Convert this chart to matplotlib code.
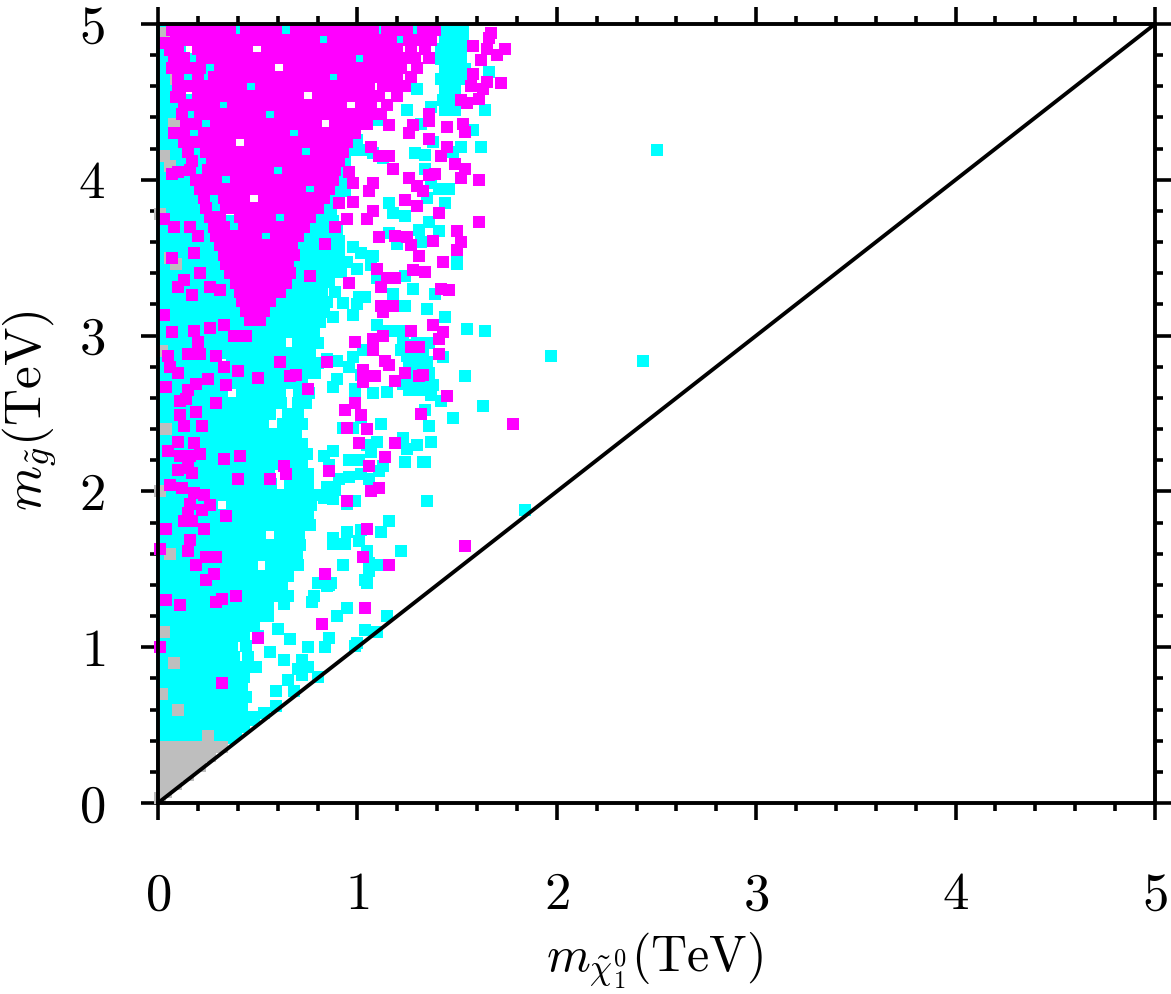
import matplotlib
matplotlib.use("Agg")
import matplotlib.pyplot as plt
from matplotlib.ticker import MultipleLocator

plt.rcParams['font.family'] = 'serif'
plt.rcParams['font.serif'] = ['cmr10']
plt.rcParams['mathtext.fontset'] = 'cm'
plt.rcParams['axes.formatter.use_mathtext'] = True

# masses in GeV (x = neutralino, y = gluino)
# dense parts: one row per gluino mass, listing the neutralino masses
L = [20, 70, 120, 170, 220, 270, 320, 370, 420]   # the filled strip next to the y axis

cyan_rows = {
    4970: [20, 60, 110, 160, 400, 1120, 1290, 1430, 1480, 1530],
    4905: [20, 60, 110, 1220, 1440, 1490, 1530],
    4840: [20, 60, 110, 1420, 1470, 1520],
    4775: [20, 60, 110, 170, 1420, 1470, 1520],
    4710: [20, 60, 110, 1440, 1490, 1540],
    4645: [20, 60, 110, 160, 230, 1420, 1470, 1520],
    4580: [20, 60, 110, 1300, 1440, 1490],
    4515: [20, 60, 110, 160, 1430, 1480],
    4450: [20, 60, 110, 160, 1250, 1440, 1490],
    4385: [20, 60, 110, 160, 200, 1100],
    4320: [20, 60, 110, 160, 200],
    4255: [20, 60, 110, 160, 200, 1000],
    4190: [20, 60, 110, 160, 200, 960, 1000],
    4125: [20, 60, 110, 160, 200, 940],
    4060: [20, 60, 110, 160, 200, 250, 930],
    3995: [20, 60, 110, 160, 200, 250, 910, 960],
    3930: [20, 60, 110, 160, 200, 250, 890, 940],
    3865: [20, 60, 110, 160, 200, 250, 300, 860, 910],
    3800: [20, 60, 110, 160, 200, 250, 300, 820, 870],
    3735: [20, 70, 120, 170, 220, 270, 320, 370, 780, 830, 880],
    3670: [20, 70, 120, 170, 220, 270, 320, 370, 740, 790, 840, 900],
    3605: [20, 70, 120, 170, 220, 270, 320, 370, 710, 760, 810, 860, 910],
    3540: [20, 70, 120, 170, 220, 270, 320, 370, 690, 740, 790, 840, 900],
    3475: [20, 70, 120, 170, 220, 270, 320, 370, 690, 740, 790, 840, 890, 950],
    3410: L + [660, 710, 760, 810, 860, 920],
    3345: L + [650, 700, 750, 800, 860],
    3280: L + [470, 515, 565, 610, 660, 705, 760, 820, 890],
    3215: L + [465, 560, 610, 655, 700, 750, 800, 850],
    3150: L + [570, 625, 670, 720, 775, 830],
    3085: L + [460, 510, 555, 600, 650, 700, 760, 810],
    3020: L + [470, 520, 575, 625, 665, 720, 780],
    2955: L + [465, 515, 560, 610, 700, 750, 800],
    2890: L + [460, 510, 560, 605, 655, 710, 760],
    2825: [20, 70, 120, 170, 220, 270, 370, 420, 470, 520, 570, 640, 690, 745, 800],
    2760: L + [465, 510, 555, 600, 650, 740, 785],
    2695: L + [475, 525, 575, 620, 670, 720],
    2630: [20, 70, 120, 170, 220, 270, 320, 420, 460, 505, 555, 610, 705, 755],
    2565: L + [470, 520, 565, 615, 700, 740],
    2500: L + [465, 510, 560, 650, 700],
    2435: L + [475, 525, 625, 680, 720],
    2370: L + [460, 505, 550, 600, 645, 690],
    2305: L + [470, 515, 570, 620, 670, 720],
    2240: [20, 70, 120, 170, 220, 270, 320, 370, 465, 510, 560, 605, 650, 700, 745],
    2175: L + [475, 520, 565, 615, 665, 720],
    2110: L + [460, 505, 555, 650, 700, 750],
    2045: L + [470, 520, 565, 660, 705, 750],
    1980: L + [465, 510, 555, 605, 655, 700, 745, 790],
    1915: [20, 70, 120, 170, 220, 270, 370, 420, 475, 525, 570, 620, 665, 715, 765],
    1850: L + [460, 505, 555, 600, 650, 700, 750],
    1785: L + [470, 515, 565, 615, 660, 710, 760],
    1720: L + [465, 510, 610, 655, 705],
    1655: L + [475, 520, 570, 615, 665, 710],
    1590: L + [460, 510, 555, 600, 650, 695],
    1525: L + [470, 565, 615, 660, 700],
    1460: L + [465, 510, 560, 605, 650],
    1395: L + [475, 520, 570, 620],
    1330: L + [460, 505, 555, 600, 650],
    1265: [20, 70, 120, 170, 220, 270, 320, 370, 420, 480, 540],
    1200: [20, 70, 120, 170, 220, 270, 320, 370, 430, 490, 550],
    1135: [20, 70, 120, 170, 220, 270, 320, 370, 430, 480],
    1070: [20, 70, 120, 170, 220, 270, 320, 370, 430, 500],
    1005: [20, 70, 120, 170, 220, 270, 320, 370, 440],
    940: [20, 70, 120, 170, 220, 270, 320, 380, 450],
    875: [20, 70, 120, 170, 220, 270, 320, 370, 430, 490],
    810: [20, 70, 120, 170, 220, 270, 320, 370, 430],
    745: [20, 70, 120, 170, 220, 270, 320, 370, 420],
    680: [20, 70, 120, 170, 220, 270, 320, 380, 440],
    615: [20, 70, 120, 170, 220, 270, 320, 370, 420],
    550: [20, 70, 120, 170, 220, 270, 320, 370, 420, 480],
    485: [20, 70, 120, 170, 220, 270, 320, 370, 420],
    420: [20, 70, 120, 170, 220, 270, 320, 360],
}

cyan_x = [1660, 1640, 1580, 1620, 1520, 1480, 1370, 1320, 1290, 1340, 1380, 1340, 1370, 1410,
          1460, 1440, 1350, 1160, 1180, 1240, 1360, 1410, 1310, 1160, 1200, 1320, 1500, 1500,
          1240, 1280, 1390, 1440, 1350, 1550, 1640, 1180, 1100, 1070, 1080, 1020, 980, 910,
          1000, 1010, 1040, 1100, 1150, 1210, 1300, 2500, 1970, 2430, 1630, 1540, 1020, 1080,
          1130, 1230, 1280, 1330, 1250, 1300, 1350, 1260, 1310, 1360, 1290, 1340, 1380, 1320,
          1370, 1230, 930, 1000, 1240, 880, 980, 1220, 1360, 1430, 1030, 980, 900, 850, 960,
          1020, 900, 880, 990, 1080, 1150, 1260, 1480, 1420, 1340, 1360, 1230, 1300, 1370,
          1250, 1330, 1120, 1100, 1050, 1070, 960, 1010, 1130, 1110, 1020, 1060, 910, 960, 860,
          830, 880, 930, 980, 990, 1020, 890, 850, 830, 880, 950, 990, 1350, 1840, 950, 1020,
          880, 880, 940, 1010, 1050, 1160, 1120, 1220, 930, 1060, 1040, 1120, 870, 780, 850,
          1240, 1340, 1060, 1150, 1100, 990, 1040, 1000, 860, 840, 800, 750, 750, 720, 680,
          650, 590, 590, 530, 660, 630, 560, 600, 550, 630, 770, 800, 860, 950, 900, 1050,
          720, 700, 480, 430, 390,
          # specks seen through the magenta cloud
          640, 830, 1010, 260, 880, 465, 325, 560, 240, 680, 740, 220, 600, 340, 760, 290,
          610, 380, 540]
cyan_y = [4690, 4450, 4320, 4210, 4210, 4180, 4470, 4360, 4170, 4160, 4240, 4070, 3980, 3940,
          3940, 3850, 3880, 3850, 3790, 3770, 3730, 3670, 3680, 3660, 3590, 3600, 3510, 3460,
          3380, 3300, 3270, 3120, 3170, 3040, 3030, 3270, 3370, 3450, 3510, 3530, 3570, 3550,
          3430, 3250, 3250, 3070, 3030, 3030, 2950, 4190, 2870, 2840, 2550, 2740, 4190, 4170,
          4140, 2960, 2940, 2900, 2870, 2850, 2830, 2800, 2780, 2760, 2720, 2700, 2680, 2650,
          2620, 2690, 3210, 3200, 3190, 3120, 3130, 2910, 2950, 2860, 2910, 2860, 2840, 2850,
          2800, 2750, 2720, 2670, 2660, 2630, 2640, 2650, 2470, 2580, 2520, 2420, 2340, 2300,
          2320, 2270, 2190, 2430, 2320, 2300, 2250, 2200, 2200, 2160, 2130, 2110, 2080, 2080,
          2090, 2170, 2230, 2260, 2410, 2410, 2590, 2470, 2010, 2030, 1960, 1950, 1920, 1940,
          1940, 1880, 1740, 1750, 1700, 1660, 1660, 1680, 1620, 1810, 1740, 1620, 1530, 1540,
          1430, 1530, 1410, 1330, 1390, 2190, 2190, 1490, 1200, 1100, 1010, 1110, 1030, 1060,
          1000, 810, 1000, 870, 820, 720, 790, 720, 620, 580, 1050, 920, 970, 1120, 1260, 1280,
          1290, 1410, 1400, 1250, 1200, 1410, 920, 860, 530, 510, 440,
          4960, 4900, 4780, 4720, 4660, 4600, 4480, 4420, 4360, 4300, 4180, 4120, 4060, 4000,
          3940, 3820, 3760, 3700, 3640]

gray_x = [20, 70, 120, 170, 220, 270, 320, 20, 70, 120, 170, 220, 260, 20, 70, 120, 170, 210,
          20, 70, 120, 150, 20, 60, 90, 20, 40, 10,
          40, 90, 80, 30, 60, 10, 60, 90, 20, 40, 10, 60, 30, 80, 20, 100, 250]
gray_y = [360, 360, 360, 360, 360, 360, 360, 300, 300, 300, 300, 300, 300, 240, 240, 240, 240,
          240, 180, 180, 180, 180, 120, 120, 120, 70, 70, 30,
          4940, 4650, 4360, 4150, 4090, 3780, 3500, 3460, 2900, 2400, 2000, 1600, 1100, 900,
          700, 600, 430]

magenta_rows = {
    4960: [70, 120, 165, 215, 260, 310, 360, 440, 490, 540, 590, 690, 735, 785, 835, 880,
           930, 980, 1030, 1080, 1150, 1200, 1250, 1330, 1390],
    4900: [90, 140, 190, 240, 290, 340, 390, 430, 480, 530, 580, 630, 680, 730, 780, 880,
           930, 975, 1020, 1070, 1120, 1170, 1260, 1310, 1370],
    4840: [100, 200, 250, 295, 345, 395, 445, 545, 595, 645, 690, 740, 790, 840, 890,
           940, 990, 1045, 1090, 1140, 1200, 1270, 1340],
    4780: [80, 130, 220, 270, 320, 370, 420, 470, 520, 570, 620, 670, 720, 770, 820, 870, 920,
           965, 1060, 1110, 1170, 1230, 1290, 1360],
    4720: [110, 160, 210, 310, 360, 405, 455, 505, 555, 655, 705, 755, 805, 850, 900,
           950, 1000, 1050, 1110, 1160, 1220, 1300],
    4660: [100, 200, 280, 330, 380, 430, 480, 530, 580, 630, 680, 730, 780, 830, 930,
           980, 1030, 1090, 1140, 1200, 1270],
    4600: [120, 170, 215, 265, 315, 365, 415, 515, 565, 615, 665, 715, 765, 815, 865, 915,
           960, 1010, 1060, 1130, 1180, 1240],
    4540: [110, 200, 250, 300, 350, 400, 450, 500, 550, 600, 650, 700, 800, 850, 900, 950,
           1000, 1050, 1110, 1200],
    4480: [130, 180, 230, 280, 375, 425, 475, 525, 575, 625, 675, 725, 775, 825, 870, 920,
           1020, 1070, 1150],
    4420: [120, 210, 260, 310, 360, 410, 460, 510, 610, 660, 710, 760, 810, 860, 910, 960,
           1010, 1070, 1120],
    4360: [140, 190, 290, 340, 390, 440, 490, 540, 590, 640, 690, 740, 790, 890, 940,
           1000, 1050],
    4300: [130, 230, 280, 330, 380, 430, 480, 530, 580, 630, 730, 780, 830, 880, 930, 990],
    4240: [160, 210, 260, 310, 360, 460, 510, 560, 610, 660, 710, 760, 810, 860, 910, 950],
    4180: [150, 240, 290, 340, 390, 440, 490, 540, 590, 640, 690, 790, 840, 880, 930],
    4120: [170, 270, 320, 370, 420, 470, 520, 570, 620, 670, 720, 770, 820, 870, 910],
    4060: [160, 250, 300, 350, 400, 450, 500, 550, 650, 700, 750, 800, 845, 890],
    4000: [190, 240, 290, 390, 440, 490, 540, 590, 640, 690, 740, 790, 840, 880],
    3940: [210, 260, 310, 360, 410, 460, 510, 560, 610, 660, 710, 810, 860],
    3880: [230, 330, 380, 430, 530, 580, 630, 680, 730, 780, 830],
    3820: [240, 340, 390, 440, 490, 540, 590, 640, 690, 740, 800],
    3760: [260, 310, 410, 460, 510, 560, 660, 710, 760],
    3700: [280, 330, 430, 480, 530, 580, 630, 680, 730],
    3640: [290, 340, 390, 440, 490, 590, 640, 700],
    3580: [310, 360, 410, 460, 510, 560, 610, 670],
    3520: [330, 380, 430, 480, 530, 580, 630, 680],
    3460: [340, 390, 440, 490, 540, 590, 650],
    3400: [360, 410, 460, 510, 560, 610, 660],
    3340: [390, 440, 490, 540, 590, 640],
    3280: [410, 460, 510, 560, 610],
    3220: [420, 470, 520, 560],
    3160: [440, 490, 530],
    3100: [460, 510],
}

magenta_x = [1670, 1660, 1580, 1650, 1740, 1700, 1620, 1580, 1650, 1720, 1630, 1570, 1610,
             1550, 1520, 1450, 1530, 1540, 1360, 1160, 1280, 1360, 1260, 1360, 1450, 1420,
             1490, 1540, 1520, 1610, 1180, 1260, 1360, 1390, 1330, 1300, 1240, 1300, 1410,
             1610, 1500, 1520, 1500, 1430, 1310, 1280, 1340, 1420, 1460, 1250, 1190, 1110,
             980, 1060, 1080, 980, 960, 1070, 1110, 1160, 950, 1050, 890, 840, 1100, 1150,
             1190, 1120, 960, 760, 910, 1080, 1270, 1380, 1120, 1180, 1130, 1380, 1430, 1410,
             1270, 990, 1080, 1130, 1080, 1270, 1310, 1410, 850, 1140, 1240, 1030, 1090, 1310,
             1330, 1190, 1030, 750, 1450, 990, 1160, 610, 660, 690, 500, 400, 940, 1020, 1320,
             950, 1050, 1780, 1010, 1190, 1140, 1060, 860, 630, 640, 560, 400, 950, 1070, 1110,
             1540, 1160, 1030, 1050, 840, 1040, 820, 330, 410, 40, 110, 290, 390, 500, 320,
             10, 240, 30, 70, 180, 260, 330, 380, 440, 200, 290, 210, 150, 50, 60, 100, 330,
             250, 190, 40, 340, 150, 140, 110, 290, 110, 190, 130, 220, 100, 180, 50, 110,
             160, 210, 150, 100, 170, 60, 120, 180, 230, 260, 220, 160, 150, 130, 170, 230,
             340, 40, 160, 150, 240, 290, 190, 280, 240, 320, 10, 30, 70, 60, 100, 90, 80,
             130, 70, 100, 210, 30, 80, 160, 200, 180, 70, 210, 130, 100, 260, 170, 310]
magenta_y = [4940, 4910, 4860, 4840, 4840, 4800, 4770, 4680, 4630, 4620, 4580, 4600, 4520,
             4490, 4510, 4340, 4360, 4310, 4420, 4350, 4350, 4380, 4300, 4260, 4210, 4150,
             4100, 4070, 4010, 4000, 4070, 4010, 4030, 4040, 3930, 3960, 3870, 3830, 3790,
             3730, 3670, 3600, 3550, 3470, 3510, 3420, 3410, 3300, 3290, 3630, 3640, 3630,
             3860, 3930, 3980, 3980, 4050, 4210, 4150, 4150, 3750, 3750, 3700, 3590, 3430,
             3370, 3370, 3310, 3340, 3380, 3850, 3800, 3580, 3610, 3190, 3190, 3150, 3070,
             3020, 2980, 3030, 2960, 2980, 3000, 2910, 2930, 2930, 2880, 2830, 2840, 2760,
             2780, 2740, 2740, 2750, 2710, 2700, 2660, 2610, 2570, 2810, 2830, 2740, 2750,
             2730, 2770, 2520, 2490, 2500, 2410, 2400, 2430, 2310, 2310, 2220, 2160, 2130,
             2160, 2110, 2080, 2080, 1940, 2000, 2020, 1650, 1530, 1580, 1760, 1470, 1250,
             1150, 2210, 2230, 1300, 1270, 1290, 1330, 1060, 770, 1000, 1430, 3130, 3020,
             3030, 3050, 3070, 3000, 3000, 2960, 2870, 2880, 2880, 2870, 2800, 2760, 2800,
             2720, 2690, 2670, 2680, 2650, 2590, 2580, 2570, 2490, 2510, 2420, 2420, 2320,
             2310, 2260, 2230, 2230, 2240, 2150, 2140, 2120, 2040, 2020, 1990, 1980, 1910,
             1880, 1920, 1860, 1810, 1810, 1760, 1840, 1760, 1690, 1620, 1580, 1580, 1530,
             1470, 1430, 1310, 1630, 4880, 4720, 4830, 4580, 4530, 4300, 4240, 4040, 4050,
             3960, 3750, 3700, 3700, 3640, 3530, 3500, 3400, 3360, 3310, 3310, 3260, 3290]


def rows_to_tev(rows):
    xs, ys = [], []
    for y, row in rows.items():
        for x in row:
            xs.append(x / 1000)
            ys.append(y / 1000)
    return xs, ys


fig = plt.figure(figsize=(11.71, 9.94), dpi=100)
ax = fig.add_axes([158 / 1171, 1 - 803 / 994, 997 / 1171, 779 / 994])

estilo = dict(ls='none', marker='s', ms=8, mew=0, clip_on=False)

cx, cy = rows_to_tev(cyan_rows)
ax.plot(cx, cy, color='#00ffff', **estilo)
ax.plot([v / 1000 for v in cyan_x], [v / 1000 for v in cyan_y], color='#00ffff', **estilo)
ax.plot([v / 1000 for v in gray_x], [v / 1000 for v in gray_y], color='#bebebe', **estilo)
mx, my = rows_to_tev(magenta_rows)
ax.plot(mx, my, color='#ff00ff', **estilo)
ax.plot([v / 1000 for v in magenta_x], [v / 1000 for v in magenta_y], color='#ff00ff', **estilo)

# m_gluino = m_neutralino
ax.plot([0, 5], [0, 5], color='black', lw=2.8, zorder=5)

ax.set_xlim(0, 5)
ax.set_ylim(0, 5)
ax.set_xticks(range(6))
ax.set_yticks(range(6))
ax.xaxis.set_minor_locator(MultipleLocator(0.2))
ax.yaxis.set_minor_locator(MultipleLocator(0.2))
ax.tick_params(which='both', direction='out', top=True, right=True, width=2.6)
ax.tick_params(which='major', length=12, labelsize=38)
ax.tick_params(axis='x', which='major', pad=38)
ax.tick_params(axis='y', which='major', pad=26)
ax.tick_params(which='minor', length=6)
for s in ax.spines.values():
    s.set_linewidth(2.8)
    s.set_zorder(6)

fig.text(654 / 1171, 1 - 972 / 994, r'$m_{\tilde{\chi}_1^0}(\mathrm{TeV})$', fontsize=36,
         ha='center', va='baseline')
fig.text(30 / 1171, 1 - 411 / 994, r'$m_{\tilde{g}}(\mathrm{TeV})$', fontsize=37,
         rotation=90, ha='center', va='center')

fig.savefig('out.png', dpi=100)
